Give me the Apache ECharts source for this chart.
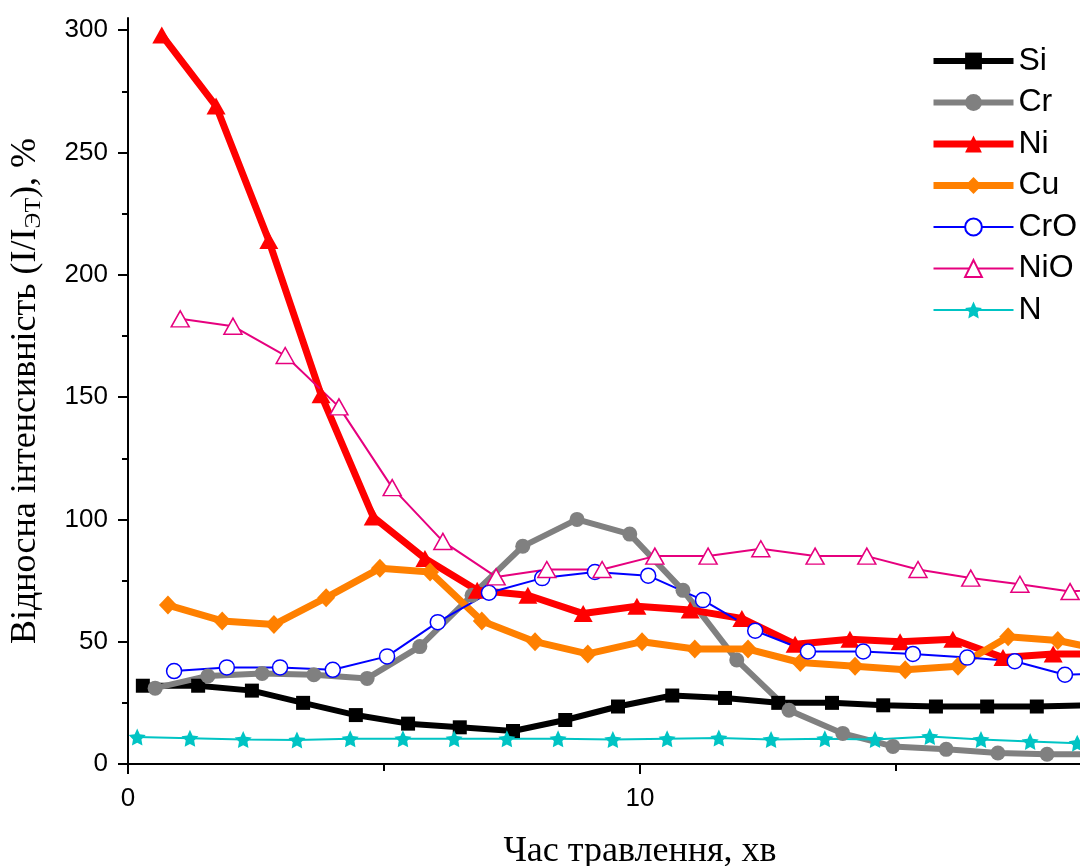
<!DOCTYPE html>
<html>
<head>
<meta charset="utf-8">
<script src="https://cdn.jsdelivr.net/npm/echarts@6/dist/echarts.min.js"></script>
<style>
  html, body { margin: 0; padding: 0; background: #fff; overflow: hidden; }
  #chart { width: 1080px; height: 866px; }
</style>
</head>
<body>
<div id="chart"></div>
<script>
// Etching time (min) and relative intensity (%) for each element / oxide
const siX  = [0.29, 1.37, 2.42, 3.42, 4.45, 5.47, 6.48, 7.52, 8.54, 9.57, 10.63, 11.66, 12.70, 13.75, 14.75, 15.78, 16.78, 17.75, 18.75];
const siY  = [32, 32, 30, 25, 20, 16.5, 15, 13.5, 18, 23.5, 28, 27, 25, 25, 24, 23.5, 23.5, 23.5, 24];

const crX  = [0.53, 1.56, 2.62, 3.63, 4.67, 5.70, 6.72, 7.71, 8.77, 9.80, 10.84, 11.89, 12.91, 13.96, 14.94, 15.98, 16.99, 17.95, 18.97];
const crY  = [31, 36, 37, 36.5, 35, 48, 69, 89, 100, 94, 71, 42.5, 22, 12.5, 7.2, 6, 4.5, 4, 4];

const niX  = [0.66, 1.72, 2.75, 3.77, 4.79, 5.80, 6.82, 7.81, 8.89, 9.94, 10.98, 11.99, 13.03, 14.10, 15.08, 16.11, 17.09, 18.07, 19.1];
const niY  = [298, 269, 214, 151, 101, 84, 71, 69, 61.5, 64.5, 63, 59.5, 49, 51, 50, 51, 43.5, 45, 45];

const cuX  = [0.78, 1.84, 2.85, 3.87, 4.92, 5.90, 6.91, 7.95, 8.98, 10.04, 11.07, 12.11, 13.13, 14.20, 15.18, 16.21, 17.19, 18.16, 19.2];
const cuY  = [65, 58.5, 57, 68, 80, 78.5, 58.5, 50, 45, 50, 47, 47, 41.5, 40, 38.5, 40, 52, 50.5, 46];

const croX = [0.90, 1.93, 2.97, 4.00, 5.06, 6.05, 7.05, 8.09, 9.12, 10.16, 11.23, 12.25, 13.28, 14.36, 15.33, 16.39, 17.32, 18.30, 19.3];
const croY = [38, 39.5, 39.5, 38.5, 44, 58, 70, 76, 78.5, 77, 67, 54.5, 46, 46, 45, 43.5, 42, 36.5, 37];

const nioX = [1.02, 2.05, 3.07, 4.12, 5.16, 6.15, 7.19, 8.18, 9.26, 10.29, 11.33, 12.36, 13.42, 14.43, 15.43, 16.46, 17.42, 18.40, 19.4];
const nioY = [182, 179, 167, 146, 113, 91, 76.5, 79.5, 79.5, 85, 85, 88, 85, 85, 79.5, 76, 73.5, 70.5, 72];

const nX   = [0.18, 1.21, 2.25, 3.30, 4.34, 5.37, 6.37, 7.40, 8.40, 9.47, 10.53, 11.54, 12.56, 13.61, 14.59, 15.66, 16.66, 17.62, 18.54, 19.5];
const nY   = [11, 10.5, 10, 9.8, 10.3, 10.3, 10.3, 10.3, 10.3, 10, 10.3, 10.6, 10, 10.3, 10, 11.2, 10, 9.2, 8.5, 8.5];

const yMajorTicks = [0, 50, 100, 150, 200, 250, 300];
const yMinorTicks = [25, 75, 125, 175, 225, 275];

const sansFont = 'Arial, "Liberation Sans", sans-serif';
const serifFont = '"Times New Roman", "Liberation Serif", serif';

const STAR = 'path://M0,-10L2.9,-4L9.5,-3.1L4.7,1.5L5.9,8.1L0,5L-5.9,8.1L-4.7,1.5L-9.5,-3.1L-2.9,-4Z';

function pairs(xs, ys) {
  return xs.map((x, i) => [x, ys[i]]);
}

function lineSeries(name, xs, ys, color, width, symbol, size, hollow) {
  return {
    name: name,
    type: 'line',
    data: pairs(xs, ys),
    symbol: symbol,
    symbolSize: size,
    showAllSymbol: true,
    lineStyle: { color: color, width: width },
    itemStyle: hollow
      ? { color: '#ffffff', borderColor: color, borderWidth: 1.5 }
      : { color: color },
    emphasis: { disabled: true },
    animation: false
  };
}

const seriesList = [
  lineSeries('Si',  siX,  siY,  '#000000', 6, 'rect',     14, false),
  lineSeries('Cr',  crX,  crY,  '#808080', 6, 'circle',   15, false),
  lineSeries('Ni',  niX,  niY,  '#ff0000', 7, 'triangle', [19, 17], false),
  lineSeries('Cu',  cuX,  cuY,  '#ff8000', 7, 'diamond',  [18, 19], false),
  lineSeries('CrO', croX, croY, '#0000ff', 2, 'circle',   15, true),
  lineSeries('NiO', nioX, nioY, '#e6007e', 2, 'triangle', [18, 16], true),
  lineSeries('N',   nX,   nY,   '#00c4c4', 2, STAR,       17, false)
];

const chart = echarts.init(document.getElementById('chart'));

chart.setOption({
  backgroundColor: '#ffffff',
  animation: false,
  grid: { left: 128, right: -72, top: 18, bottom: 102, outerBoundsMode: 'none', containLabel: false },
  legend: {
    orient: 'vertical',
    left: 930,
    top: 45,
    padding: 0,
    itemWidth: 80,
    itemHeight: 21,
    itemGap: 9.5,
    textStyle: { fontFamily: sansFont, fontSize: 32, color: '#000' },
    data: seriesList.map(s => ({ name: s.name, lineStyle: { width: s.lineStyle.width } }))
  },
  xAxis: {
    type: 'value',
    min: 0,
    max: 20,
    interval: 10,
    name: 'Час травлення, хв',
    nameLocation: 'middle',
    nameGap: 70,
    nameTextStyle: { fontFamily: serifFont, fontSize: 36, color: '#000' },
    axisLine: { show: true, onZero: false, lineStyle: { color: '#000', width: 2 } },
    axisTick: { show: true, inside: false, length: 10, lineStyle: { color: '#000', width: 2 } },
    minorTick: { show: true, splitNumber: 2, length: 7, lineStyle: { color: '#000', width: 2 } },
    axisLabel: { fontFamily: sansFont, fontSize: 26, color: '#000', margin: 22 },
    splitLine: { show: false }
  },
  yAxis: [
    {
      type: 'value',
      min: 0,
      max: 305,
      name: 'Відносна інтенсивність (I/I{sub|ЭТ}), %',
      nameLocation: 'middle',
      nameRotate: 90,
      nameGap: 84,
      nameTextStyle: {
        fontFamily: serifFont, fontSize: 36, color: '#000',
        rich: {
          sub: { fontFamily: serifFont, fontSize: 24, color: '#000', lineHeight: 24, padding: [16, 0, 0, 0] }
        }
      },
      axisLine: { show: true, onZero: false, lineStyle: { color: '#000', width: 2 } },
      axisTick: { show: true, inside: false, length: 10, customValues: yMajorTicks, lineStyle: { color: '#000', width: 2 } },
      axisLabel: { fontFamily: sansFont, fontSize: 26, color: '#000', margin: 20, customValues: yMajorTicks },
      splitLine: { show: false }
    },
    {
      type: 'value',
      min: 0,
      max: 305,
      position: 'left',
      axisLine: { show: false },
      axisTick: { show: true, inside: false, length: 6, customValues: yMinorTicks, lineStyle: { color: '#000', width: 2 } },
      axisLabel: { show: false },
      splitLine: { show: false }
    }
  ],
  series: seriesList
});
</script>
</body>
</html>
